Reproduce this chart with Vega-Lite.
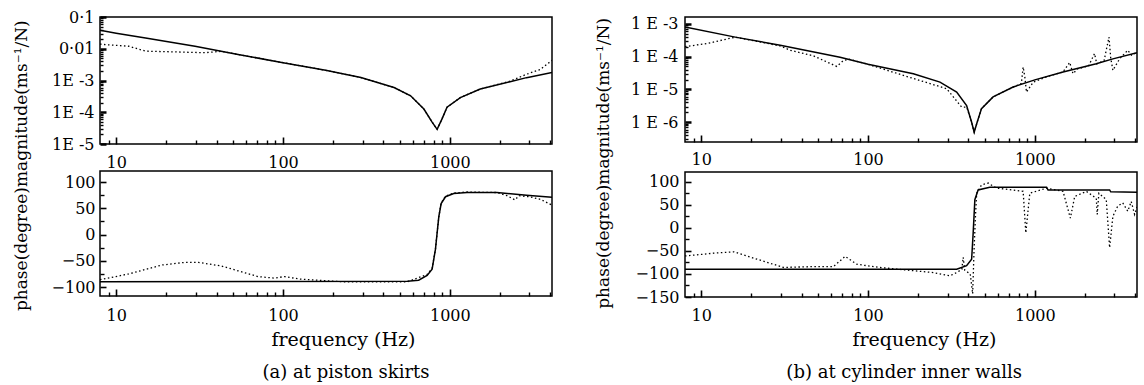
{
  "$schema": "https://vega.github.io/schema/vega-lite/v6.json",
  "background": "white",
  "padding": {"left": 13, "top": 5, "right": 2, "bottom": 0},
  "config": {
    "font": "DejaVu Serif",
    "view": {"stroke": "black", "strokeWidth": 1.5},
    "axis": {"domain": false, "grid": false, "ticks": true, "labelFont": "DejaVu Serif", "labelFontSize": 16, "labelColor": "black", "tickColor": "black", "tickWidth": 1.4, "tickOpacity": 1, "titleFont": "DejaVu Serif", "titleFontWeight": "normal", "titleColor": "black", "labelFlush": false, "labelOverlap": false, "zindex": 1},
    "title": {"font": "DejaVu Serif", "fontWeight": "normal", "color": "black", "anchor": "middle"}
  },
  "datasets": {
    "magA": [
      {"f": 8, "v": 0.038, "s": "solid"}, {"f": 10, "v": 0.031, "s": "solid"}, {"f": 15, "v": 0.0219, "s": "solid"}, {"f": 29.7, "v": 0.012, "s": "solid"}, {"f": 53.8, "v": 0.0066, "s": "solid"}, {"f": 100, "v": 0.00365, "s": "solid"}, {"f": 180, "v": 0.0021, "s": "solid"}, {"f": 293, "v": 0.00124, "s": "solid"}, {"f": 463, "v": 0.0006, "s": "solid"}, {"f": 582, "v": 0.00033, "s": "solid"}, {"f": 699, "v": 0.000126, "s": "solid"}, {"f": 783, "v": 0.000049, "s": "solid"}, {"f": 839, "v": 0.000029, "s": "solid"}, {"f": 898, "v": 0.000062, "s": "solid"}, {"f": 962, "v": 0.000144, "s": "solid"}, {"f": 1156, "v": 0.00029, "s": "solid"}, {"f": 1522, "v": 0.00054, "s": "solid"}, {"f": 2296, "v": 0.00091, "s": "solid"}, {"f": 2884, "v": 0.00123, "s": "solid"}, {"f": 4096, "v": 0.00178, "s": "solid"},
      {"f": 8, "v": 0.014, "s": "dotted"}, {"f": 8.6, "v": 0.0135, "s": "dotted"}, {"f": 11.9, "v": 0.012, "s": "dotted"}, {"f": 15, "v": 0.0084, "s": "dotted"}, {"f": 23.6, "v": 0.0079, "s": "dotted"}, {"f": 34, "v": 0.0075, "s": "dotted"}, {"f": 42.8, "v": 0.0083, "s": "dotted"}, {"f": 53.8, "v": 0.0066, "s": "dotted"}, {"f": 100, "v": 0.00365, "s": "dotted"}, {"f": 180, "v": 0.0021, "s": "dotted"}, {"f": 293, "v": 0.00124, "s": "dotted"}, {"f": 463, "v": 0.0006, "s": "dotted"}, {"f": 582, "v": 0.00033, "s": "dotted"}, {"f": 699, "v": 0.000126, "s": "dotted"}, {"f": 783, "v": 0.000049, "s": "dotted"}, {"f": 839, "v": 0.000029, "s": "dotted"}, {"f": 898, "v": 0.000062, "s": "dotted"}, {"f": 962, "v": 0.000144, "s": "dotted"}, {"f": 1156, "v": 0.00029, "s": "dotted"}, {"f": 1522, "v": 0.00054, "s": "dotted"}, {"f": 2296, "v": 0.00095, "s": "dotted"}, {"f": 2884, "v": 0.00158, "s": "dotted"}, {"f": 3470, "v": 0.0022, "s": "dotted"}, {"f": 4096, "v": 0.0043, "s": "dotted"}
    ],
    "phaseA": [
      {"f": 8, "v": -90, "s": "solid"}, {"f": 556, "v": -89, "s": "solid"}, {"f": 650, "v": -87, "s": "solid"}, {"f": 731, "v": -78, "s": "solid"}, {"f": 783, "v": -66, "s": "solid"}, {"f": 820, "v": -28, "s": "solid"}, {"f": 839, "v": 3, "s": "solid"}, {"f": 859, "v": 34, "s": "solid"}, {"f": 887, "v": 59, "s": "solid"}, {"f": 942, "v": 72, "s": "solid"}, {"f": 1055, "v": 78, "s": "solid"}, {"f": 1267, "v": 80, "s": "solid"}, {"f": 1913, "v": 80, "s": "solid"}, {"f": 2884, "v": 75, "s": "solid"}, {"f": 4096, "v": 71, "s": "solid"},
      {"f": 8, "v": -86, "s": "dotted"}, {"f": 11.9, "v": -75, "s": "dotted"}, {"f": 18.8, "v": -58, "s": "dotted"}, {"f": 25.9, "v": -53, "s": "dotted"}, {"f": 31.1, "v": -53, "s": "dotted"}, {"f": 42.8, "v": -60, "s": "dotted"}, {"f": 53.8, "v": -69, "s": "dotted"}, {"f": 70.8, "v": -80, "s": "dotted"}, {"f": 89, "v": -83, "s": "dotted"}, {"f": 102, "v": -80, "s": "dotted"}, {"f": 128, "v": -85, "s": "dotted"}, {"f": 185, "v": -88, "s": "dotted"}, {"f": 230, "v": -90, "s": "dotted"}, {"f": 556, "v": -90, "s": "dotted"}, {"f": 731, "v": -76, "s": "dotted"}, {"f": 783, "v": -64, "s": "dotted"}, {"f": 820, "v": -28, "s": "dotted"}, {"f": 839, "v": 3, "s": "dotted"}, {"f": 859, "v": 34, "s": "dotted"}, {"f": 887, "v": 60, "s": "dotted"}, {"f": 942, "v": 73, "s": "dotted"}, {"f": 1055, "v": 79, "s": "dotted"}, {"f": 1267, "v": 81, "s": "dotted"}, {"f": 1913, "v": 80, "s": "dotted"}, {"f": 2200, "v": 74, "s": "dotted"}, {"f": 2455, "v": 66, "s": "dotted"}, {"f": 2600, "v": 74, "s": "dotted"}, {"f": 3000, "v": 72, "s": "dotted"}, {"f": 3500, "v": 67, "s": "dotted"}, {"f": 4096, "v": 56, "s": "dotted"}
    ],
    "magB": [
      {"f": 8, "v": 0.0008, "s": "solid"}, {"f": 16, "v": 0.00039, "s": "solid"}, {"f": 29.8, "v": 0.00022, "s": "solid"}, {"f": 68, "v": 0.000095, "s": "solid"}, {"f": 100, "v": 0.000058, "s": "solid"}, {"f": 187, "v": 0.00003, "s": "solid"}, {"f": 270, "v": 0.0000166, "s": "solid"}, {"f": 340, "v": 0.0000083, "s": "solid"}, {"f": 390, "v": 0.0000032, "s": "solid"}, {"f": 418, "v": 0.000001, "s": "solid"}, {"f": 433, "v": 0.0000005, "s": "solid"}, {"f": 451, "v": 0.000001, "s": "solid"}, {"f": 479, "v": 0.0000026, "s": "solid"}, {"f": 562, "v": 0.0000059, "s": "solid"}, {"f": 741, "v": 0.0000118, "s": "solid"}, {"f": 1000, "v": 0.0000195, "s": "solid"}, {"f": 1476, "v": 0.000034, "s": "solid"}, {"f": 2335, "v": 0.00006, "s": "solid"}, {"f": 2937, "v": 0.000085, "s": "solid"}, {"f": 4096, "v": 0.00013, "s": "solid"},
      {"f": 8, "v": 0.0002, "s": "dotted"}, {"f": 10.9, "v": 0.00025, "s": "dotted"}, {"f": 16, "v": 0.00039, "s": "dotted"}, {"f": 29.8, "v": 0.00021, "s": "dotted"}, {"f": 34.2, "v": 0.000155, "s": "dotted"}, {"f": 47.1, "v": 0.000105, "s": "dotted"}, {"f": 65, "v": 0.00005, "s": "dotted"}, {"f": 71.3, "v": 0.000076, "s": "dotted"}, {"f": 77, "v": 0.000083, "s": "dotted"}, {"f": 100, "v": 0.000058, "s": "dotted"}, {"f": 179, "v": 0.000023, "s": "dotted"}, {"f": 296, "v": 0.0000105, "s": "dotted"}, {"f": 364, "v": 0.0000029, "s": "dotted"}, {"f": 390, "v": 0.0000029, "s": "dotted"}, {"f": 418, "v": 0.000001, "s": "dotted"}, {"f": 433, "v": 0.0000005, "s": "dotted"}, {"f": 451, "v": 0.000001, "s": "dotted"}, {"f": 479, "v": 0.0000026, "s": "dotted"}, {"f": 562, "v": 0.0000059, "s": "dotted"}, {"f": 741, "v": 0.0000118, "s": "dotted"}, {"f": 830, "v": 0.000015, "s": "dotted"}, {"f": 851, "v": 0.000048, "s": "dotted"}, {"f": 870, "v": 0.000025, "s": "dotted"}, {"f": 891, "v": 0.0000083, "s": "dotted"}, {"f": 977, "v": 0.0000166, "s": "dotted"}, {"f": 1200, "v": 0.000025, "s": "dotted"}, {"f": 1476, "v": 0.000034, "s": "dotted"}, {"f": 1618, "v": 0.000066, "s": "dotted"}, {"f": 1694, "v": 0.00003, "s": "dotted"}, {"f": 1800, "v": 0.000042, "s": "dotted"}, {"f": 2100, "v": 0.000052, "s": "dotted"}, {"f": 2280, "v": 0.000123, "s": "dotted"}, {"f": 2350, "v": 0.00006, "s": "dotted"}, {"f": 2600, "v": 0.000075, "s": "dotted"}, {"f": 2782, "v": 0.00039, "s": "dotted"}, {"f": 2850, "v": 0.00009, "s": "dotted"}, {"f": 2937, "v": 0.000038, "s": "dotted"}, {"f": 3221, "v": 0.000085, "s": "dotted"}, {"f": 3606, "v": 0.000155, "s": "dotted"}, {"f": 3800, "v": 0.00011, "s": "dotted"}, {"f": 4096, "v": 0.000135, "s": "dotted"}
    ],
    "phaseB": [
      {"f": 8, "v": -90, "s": "solid"}, {"f": 340, "v": -90, "s": "solid"}, {"f": 390, "v": -82, "s": "solid"}, {"f": 418, "v": -68, "s": "solid"}, {"f": 427, "v": -11, "s": "solid"}, {"f": 437, "v": 61, "s": "solid"}, {"f": 457, "v": 82, "s": "solid"}, {"f": 537, "v": 88, "s": "solid"}, {"f": 1176, "v": 88, "s": "solid"}, {"f": 1200, "v": 82, "s": "solid"}, {"f": 2807, "v": 82, "s": "solid"}, {"f": 2850, "v": 78, "s": "solid"}, {"f": 4096, "v": 77, "s": "solid"},
      {"f": 8, "v": -61, "s": "dotted"}, {"f": 11.9, "v": -55, "s": "dotted"}, {"f": 15.7, "v": -52, "s": "dotted"}, {"f": 21.6, "v": -68, "s": "dotted"}, {"f": 31.2, "v": -86, "s": "dotted"}, {"f": 47.1, "v": -84, "s": "dotted"}, {"f": 62, "v": -84, "s": "dotted"}, {"f": 73, "v": -62, "s": "dotted"}, {"f": 85.7, "v": -79, "s": "dotted"}, {"f": 118, "v": -86, "s": "dotted"}, {"f": 187, "v": -93, "s": "dotted"}, {"f": 246, "v": -97, "s": "dotted"}, {"f": 310, "v": -104, "s": "dotted"}, {"f": 340, "v": -97, "s": "dotted"}, {"f": 365, "v": -90, "s": "dotted"}, {"f": 372, "v": -64, "s": "dotted"}, {"f": 380, "v": -92, "s": "dotted"}, {"f": 410, "v": -100, "s": "dotted"}, {"f": 424, "v": -143, "s": "dotted"}, {"f": 432, "v": -50, "s": "dotted"}, {"f": 440, "v": 20, "s": "dotted"}, {"f": 448, "v": 75, "s": "dotted"}, {"f": 479, "v": 93, "s": "dotted"}, {"f": 525, "v": 97, "s": "dotted"}, {"f": 589, "v": 86, "s": "dotted"}, {"f": 741, "v": 82, "s": "dotted"}, {"f": 851, "v": 79, "s": "dotted"}, {"f": 883, "v": -11, "s": "dotted"}, {"f": 933, "v": 75, "s": "dotted"}, {"f": 1176, "v": 86, "s": "dotted"}, {"f": 1476, "v": 79, "s": "dotted"}, {"f": 1633, "v": 21, "s": "dotted"}, {"f": 1734, "v": 68, "s": "dotted"}, {"f": 2036, "v": 79, "s": "dotted"}, {"f": 2335, "v": 64, "s": "dotted"}, {"f": 2366, "v": 29, "s": "dotted"}, {"f": 2420, "v": 75, "s": "dotted"}, {"f": 2680, "v": 61, "s": "dotted"}, {"f": 2807, "v": -43, "s": "dotted"}, {"f": 2937, "v": 25, "s": "dotted"}, {"f": 3140, "v": 47, "s": "dotted"}, {"f": 3365, "v": 54, "s": "dotted"}, {"f": 3606, "v": 36, "s": "dotted"}, {"f": 3783, "v": 57, "s": "dotted"}, {"f": 3963, "v": 29, "s": "dotted"}, {"f": 4096, "v": 45, "s": "dotted"}
    ]
  },
  "spacing": 41,
  "hconcat": [
    {
      "title": {"text": "(a) at piston skirts", "orient": "bottom", "fontSize": 18, "offset": 14, "dx": 63},
      "vconcat": [
        {
          "title": {"text": "phase(degree)magnitude(ms⁻¹/N)", "orient": "left", "anchor": "end", "fontSize": 17, "offset": 19, "dx": -12},
          "spacing": -1,
          "vconcat": [
            {
              "width": 452, "height": 127,
              "data": {"name": "magA"},
              "resolve": {"axis": {"x": "independent", "y": "independent"}},
              "layer": [
                {
                  "transform": [{"filter": "datum.s === 'solid'"}],
                  "mark": {"type": "line", "color": "black", "strokeWidth": 1.5, "clip": true},
                  "encoding": {
                    "x": {"field": "f", "type": "quantitative", "scale": {"type": "log", "domain": [8, 4096], "nice": false}, "axis": {"orient": "bottom", "values": [10, 100, 1000], "format": "d", "offset": -7, "tickSize": 7, "tickWidth": 1.6, "labelPadding": 10, "title": null}},
                    "y": {"field": "v", "type": "quantitative", "scale": {"type": "log", "domain": [0.00001, 0.1], "nice": false}, "axis": {"orient": "left", "values": [0.00001, 0.0001, 0.001, 0.01, 0.1], "labelExpr": "datum.value > 0.05 ? '0·1' : datum.value > 0.005 ? '0·01' : '1E -' + format(-log(datum.value)/LN10, '.0f')", "offset": -6, "tickSize": 6, "tickWidth": 2.5, "labelPadding": 6, "title": null}}
                  }
                },
                {
                  "transform": [{"filter": "datum.s === 'dotted'"}],
                  "mark": {"type": "line", "color": "black", "strokeWidth": 1.3, "strokeDash": [1.5, 2.5], "clip": true},
                  "encoding": {
                    "x": {"field": "f", "type": "quantitative", "scale": {"type": "log", "domain": [8, 4096], "nice": false}, "axis": {"orient": "bottom", "values": [9, 20, 30, 40, 50, 60, 70, 80, 90, 200, 300, 400, 500, 600, 700, 800, 900, 2000, 3000, 4000], "labels": false, "offset": -4, "tickSize": 4, "title": null}},
                    "y": {"field": "v", "type": "quantitative", "scale": {"type": "log", "domain": [0.00001, 0.1], "nice": false}, "axis": {"orient": "left", "values": [0.00002, 0.00003, 0.00004, 0.00005, 0.00006, 0.00007, 0.00008, 0.00009, 0.0002, 0.0003, 0.0004, 0.0005, 0.0006, 0.0007, 0.0008, 0.0009, 0.002, 0.003, 0.004, 0.005, 0.006, 0.007, 0.008, 0.009, 0.02, 0.03, 0.04, 0.05, 0.06, 0.07, 0.08, 0.09], "labels": false, "offset": -3, "tickSize": 3, "title": null}}
                  }
                }
              ]
            },
            {
              "width": 452, "height": 125,
              "data": {"name": "phaseA"},
              "resolve": {"axis": {"x": "independent", "y": "independent"}},
              "layer": [
                {
                  "transform": [{"filter": "datum.s === 'solid'"}],
                  "mark": {"type": "line", "color": "black", "strokeWidth": 1.5, "clip": true},
                  "encoding": {
                    "x": {"field": "f", "type": "quantitative", "scale": {"type": "log", "domain": [8, 4096], "nice": false}, "axis": {"orient": "bottom", "values": [10, 100, 1000], "format": "d", "offset": -7, "tickSize": 7, "tickWidth": 1.6, "labelPadding": 11, "title": "frequency (Hz)", "titleFontSize": 19, "titlePadding": 7, "titleX": 243}},
                    "y": {"field": "v", "type": "quantitative", "scale": {"domain": [-117, 121], "nice": false, "zero": false}, "axis": {"orient": "left", "values": [-100, -50, 0, 50, 100], "offset": -6, "tickSize": 6, "tickWidth": 1.6, "labelPadding": 5, "title": null}}
                  }
                },
                {
                  "transform": [{"filter": "datum.s === 'dotted'"}],
                  "mark": {"type": "line", "color": "black", "strokeWidth": 1.3, "strokeDash": [1.5, 2.5], "clip": true},
                  "encoding": {
                    "x": {"field": "f", "type": "quantitative", "scale": {"type": "log", "domain": [8, 4096], "nice": false}, "axis": {"orient": "bottom", "values": [9, 20, 30, 40, 50, 60, 70, 80, 90, 200, 300, 400, 500, 600, 700, 800, 900, 2000, 3000, 4000], "labels": false, "offset": -4, "tickSize": 4, "title": null}},
                    "y": {"field": "v", "type": "quantitative", "scale": {"domain": [-117, 121], "nice": false, "zero": false}, "axis": {"orient": "left", "values": [-75, -25, 25, 75], "labels": false, "offset": -4, "tickSize": 4, "title": null}}
                  }
                }
              ]
            }
          ]
        }
      ]
    },
    {
      "title": {"text": "(b) at cylinder inner walls", "orient": "bottom", "fontSize": 18, "offset": 14, "dx": 38},
      "vconcat": [
        {
          "title": {"text": " ", "orient": "top", "fontSize": 5, "offset": 4},
          "vconcat": [
            {
              "title": {"text": "phase(degree)magnitude(ms⁻¹/N)", "orient": "left", "anchor": "end", "fontSize": 17, "offset": 17, "dx": -3},
              "spacing": 3,
              "vconcat": [
                {
                  "width": 452, "height": 125,
                  "data": {"name": "magB"},
                  "resolve": {"axis": {"x": "independent", "y": "independent"}},
                  "layer": [
                    {
                      "transform": [{"filter": "datum.s === 'solid'"}],
                      "mark": {"type": "line", "color": "black", "strokeWidth": 1.5, "clip": true},
                      "encoding": {
                        "x": {"field": "f", "type": "quantitative", "scale": {"type": "log", "domain": [8, 4096], "nice": false}, "axis": {"orient": "bottom", "values": [10, 100, 1000], "format": "d", "offset": -7, "tickSize": 7, "tickWidth": 1.6, "labelPadding": 9, "title": null}},
                        "y": {"field": "v", "type": "quantitative", "scale": {"type": "log", "domain": [0.00000025, 0.0016], "nice": false}, "axis": {"orient": "left", "values": [0.000001, 0.00001, 0.0001, 0.001], "labelExpr": "'1 E -' + format(-log(datum.value)/LN10, '.0f')", "offset": -6, "tickSize": 6, "tickWidth": 2.5, "labelPadding": 7, "title": null}}
                      }
                    },
                    {
                      "transform": [{"filter": "datum.s === 'dotted'"}],
                      "mark": {"type": "line", "color": "black", "strokeWidth": 1.3, "strokeDash": [1.5, 2.5], "clip": true},
                      "encoding": {
                        "x": {"field": "f", "type": "quantitative", "scale": {"type": "log", "domain": [8, 4096], "nice": false}, "axis": {"orient": "bottom", "values": [9, 20, 30, 40, 50, 60, 70, 80, 90, 200, 300, 400, 500, 600, 700, 800, 900, 2000, 3000, 4000], "labels": false, "offset": -4, "tickSize": 4, "title": null}},
                        "y": {"field": "v", "type": "quantitative", "scale": {"type": "log", "domain": [0.00000025, 0.0016], "nice": false}, "axis": {"orient": "left", "values": [0.0000003, 0.0000004, 0.0000005, 0.0000006, 0.0000007, 0.0000008, 0.0000009, 0.000002, 0.000003, 0.000004, 0.000005, 0.000006, 0.000007, 0.000008, 0.000009, 0.00002, 0.00003, 0.00004, 0.00005, 0.00006, 0.00007, 0.00008, 0.00009, 0.0002, 0.0003, 0.0004, 0.0005, 0.0006, 0.0007, 0.0008, 0.0009], "labels": false, "offset": -3, "tickSize": 3, "title": null}}
                      }
                    }
                  ]
                },
                {
                  "width": 452, "height": 125,
                  "data": {"name": "phaseB"},
                  "resolve": {"axis": {"x": "independent", "y": "independent"}},
                  "layer": [
                    {
                      "transform": [{"filter": "datum.s === 'solid'"}],
                      "mark": {"type": "line", "color": "black", "strokeWidth": 1.5, "clip": true},
                      "encoding": {
                        "x": {"field": "f", "type": "quantitative", "scale": {"type": "log", "domain": [8, 4096], "nice": false}, "axis": {"orient": "bottom", "values": [10, 100, 1000], "format": "d", "offset": -7, "tickSize": 7, "tickWidth": 1.6, "labelPadding": 10, "title": "frequency (Hz)", "titleFontSize": 19, "titlePadding": 7, "titleX": 239}},
                        "y": {"field": "v", "type": "quantitative", "scale": {"domain": [-150, 121], "nice": false, "zero": false}, "axis": {"orient": "left", "values": [-150, -100, -50, 0, 50, 100], "offset": -6, "tickSize": 6, "tickWidth": 1.6, "labelPadding": 6, "title": null}}
                      }
                    },
                    {
                      "transform": [{"filter": "datum.s === 'dotted'"}],
                      "mark": {"type": "line", "color": "black", "strokeWidth": 1.3, "strokeDash": [1.5, 2.5], "clip": true},
                      "encoding": {
                        "x": {"field": "f", "type": "quantitative", "scale": {"type": "log", "domain": [8, 4096], "nice": false}, "axis": {"orient": "bottom", "values": [9, 20, 30, 40, 50, 60, 70, 80, 90, 200, 300, 400, 500, 600, 700, 800, 900, 2000, 3000, 4000], "labels": false, "offset": -4, "tickSize": 4, "title": null}},
                        "y": {"field": "v", "type": "quantitative", "scale": {"domain": [-150, 121], "nice": false, "zero": false}, "axis": {"orient": "left", "values": [-125, -75, -25, 25, 75], "labels": false, "offset": -4, "tickSize": 4, "title": null}}
                      }
                    }
                  ]
                }
              ]
            }
          ]
        }
      ]
    }
  ]
}
